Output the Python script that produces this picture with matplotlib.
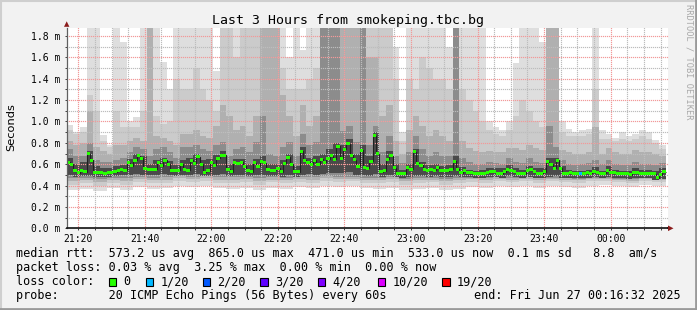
import numpy as np
import matplotlib
matplotlib.use("Agg")
import matplotlib.pyplot as plt
from matplotlib.patches import Rectangle, Polygon
from matplotlib.lines import Line2D

W, H = 697, 310

# ---------------- data (RTT in milliseconds; axis labelled "m" = milli-seconds) ----
# median RTT per 1-minute step, 180 steps starting 21:16:32
median = [
    0.62, 0.60, 0.54, 0.52, 0.54, 0.53, 0.70, 0.635, 0.52, 0.52,
    0.525, 0.515, 0.52, 0.525, 0.53, 0.545, 0.55, 0.545, 0.615, 0.585,
    0.635, 0.68, 0.655, 0.56, 0.555, 0.555, 0.555, 0.615, 0.585, 0.635,
    0.60, 0.545, 0.545, 0.545, 0.60, 0.555, 0.545, 0.635, 0.61, 0.67,
    0.60, 0.525, 0.54, 0.615, 0.59, 0.655, 0.68, 0.685, 0.555, 0.53,
    0.615, 0.61, 0.62, 0.58, 0.545, 0.53, 0.615, 0.58, 0.63, 0.615,
    0.55, 0.54, 0.545, 0.56, 0.53, 0.61, 0.665, 0.60, 0.53, 0.53,
    0.72, 0.635, 0.62, 0.60, 0.635, 0.60, 0.645, 0.62, 0.65, 0.68,
    0.645, 0.77, 0.655, 0.74, 0.79, 0.686, 0.64, 0.58, 0.73, 0.57,
    0.56, 0.63, 0.865, 0.70, 0.53, 0.54, 0.645, 0.68, 0.565, 0.51,
    0.51, 0.51, 0.565, 0.555, 0.715, 0.61, 0.59, 0.555, 0.545, 0.555,
    0.545, 0.57, 0.54, 0.54, 0.54, 0.555, 0.63, 0.555, 0.52, 0.54,
    0.52, 0.52, 0.515, 0.51, 0.515, 0.515, 0.525, 0.53, 0.53, 0.51,
    0.51, 0.53, 0.555, 0.54, 0.53, 0.515, 0.515, 0.51, 0.545, 0.55,
    0.53, 0.515, 0.515, 0.53, 0.625, 0.60, 0.56, 0.635, 0.56, 0.51,
    0.515, 0.52, 0.515, 0.51, 0.51, 0.515, 0.52, 0.515, 0.53, 0.525,
    0.51, 0.515, 0.545, 0.52, 0.52, 0.515, 0.515, 0.51, 0.515, 0.50,
    0.525, 0.525, 0.515, 0.515, 0.515, 0.515, 0.51, 0.475, 0.50, 0.53,
]
# lost pings (out of 20) at given steps; all other steps 0
loss_events = {154: 1}

# smoke layers, upper edges per 2-minute step (90 values)
smoke_hi_a = [
    0.97, 0.90, 0.95, 1.88, 1.88, 0.87, 0.78, 1.88, 1.74, 1.00,
    1.04, 1.88, 1.88, 1.88, 1.56, 1.30, 1.88, 1.88, 1.88, 1.88,
    1.88, 1.88, 1.47, 1.88, 1.88, 1.88, 1.88, 1.88, 1.88, 1.88,
    1.88, 1.88, 1.88, 1.60, 1.88, 1.67, 1.88, 1.88, 1.88, 1.88,
    1.88, 1.88, 1.88, 1.88, 1.88, 1.88, 1.88, 1.88, 1.88, 1.70,
    0.90, 1.88, 1.88, 1.88, 1.88, 1.88, 1.88, 1.70, 1.88, 1.88,
    1.88, 1.88, 1.88, 1.00, 0.95, 0.92, 1.00, 1.55, 1.88, 1.88,
    1.88, 1.74, 1.88, 1.88, 1.00, 0.93, 0.90, 0.92, 0.93, 1.88,
    0.92, 0.88, 0.85, 0.90, 0.86, 0.88, 0.92, 0.90, 0.83, 0.78,
]
smoke_hi_b = [
    0.92, 0.88, 0.90, 1.25, 1.10, 0.82, 0.76, 1.10, 0.95, 0.95,
    0.95, 1.10, 1.88, 1.05, 0.98, 1.00, 1.40, 1.30, 1.30, 1.50,
    1.30, 1.20, 1.10, 1.88, 1.88, 1.60, 1.88, 1.88, 1.88, 1.88,
    1.88, 1.88, 1.50, 1.30, 1.30, 1.30, 1.40, 1.50, 1.88, 1.88,
    1.88, 1.88, 1.88, 1.88, 1.88, 1.88, 1.88, 1.88, 1.88, 1.40,
    0.82, 1.40, 1.30, 1.60, 1.50, 1.40, 1.40, 1.30, 1.88, 1.30,
    1.20, 1.10, 1.00, 0.92, 0.88, 0.86, 0.92, 1.05, 1.20, 1.10,
    1.00, 0.95, 1.88, 1.88, 0.90, 0.86, 0.86, 0.86, 0.88, 1.30,
    0.84, 0.84, 0.82, 0.84, 0.82, 0.84, 0.86, 0.84, 0.80, 0.74,
]
smoke_hi_c = [
    0.82, 0.78, 0.80, 1.10, 0.76, 0.72, 0.70, 0.78, 0.78, 0.82,
    0.85, 0.82, 1.88, 0.86, 0.85, 0.82, 0.78, 0.88, 0.88, 0.92,
    0.86, 0.85, 0.96, 1.15, 1.05, 0.92, 0.96, 0.86, 1.05, 1.88,
    1.88, 1.88, 1.25, 1.05, 0.86, 1.15, 0.96, 1.05, 1.88, 1.88,
    1.88, 1.88, 1.88, 1.88, 1.88, 1.60, 1.60, 1.05, 1.15, 0.82,
    0.70, 0.92, 1.05, 0.96, 0.86, 0.92, 0.86, 0.82, 1.88, 0.82,
    0.75, 0.72, 0.71, 0.72, 0.71, 0.71, 0.75, 0.75, 0.73, 0.78,
    0.75, 0.73, 1.88, 1.88, 0.73, 0.71, 0.70, 0.70, 0.71, 0.95,
    0.70, 0.75, 0.71, 0.70, 0.70, 0.73, 0.71, 0.71, 0.70, 0.68,
]
smoke_hi_d = [
    0.74, 0.68, 0.68, 0.80, 0.64, 0.62, 0.62, 0.64, 0.66, 0.71,
    0.76, 0.74, 0.68, 0.74, 0.76, 0.71, 0.66, 0.76, 0.76, 0.78,
    0.74, 0.72, 0.78, 0.81, 0.68, 0.74, 0.76, 0.71, 0.81, 1.05,
    0.70, 0.68, 0.76, 0.81, 0.68, 0.88, 0.78, 0.81, 1.88, 1.88,
    1.88, 0.91, 0.96, 0.81, 1.88, 0.78, 0.96, 0.71, 0.86, 0.68,
    0.61, 0.71, 0.86, 0.74, 0.68, 0.71, 0.68, 0.68, 1.88, 0.66,
    0.62, 0.60, 0.60, 0.62, 0.61, 0.60, 0.66, 0.62, 0.61, 0.66,
    0.62, 0.61, 0.96, 0.76, 0.64, 0.60, 0.59, 0.60, 0.61, 0.64,
    0.60, 0.64, 0.60, 0.59, 0.59, 0.62, 0.60, 0.60, 0.59, 0.61,
]
smoke_hi_e = [
    0.66, 0.60, 0.62, 0.72, 0.58, 0.56, 0.56, 0.58, 0.59, 0.65,
    0.70, 0.68, 0.60, 0.64, 0.66, 0.63, 0.59, 0.64, 0.66, 0.70,
    0.64, 0.65, 0.69, 0.72, 0.60, 0.65, 0.65, 0.60, 0.65, 0.68,
    0.60, 0.60, 0.64, 0.70, 0.58, 0.76, 0.66, 0.68, 0.70, 0.74,
    0.80, 0.78, 0.84, 0.70, 0.78, 0.68, 0.90, 0.60, 0.72, 0.60,
    0.55, 0.60, 0.74, 0.62, 0.59, 0.60, 0.58, 0.59, 0.68, 0.57,
    0.55, 0.54, 0.55, 0.56, 0.56, 0.56, 0.59, 0.56, 0.55, 0.58,
    0.56, 0.56, 0.66, 0.66, 0.58, 0.55, 0.54, 0.54, 0.55, 0.57,
    0.54, 0.58, 0.55, 0.54, 0.54, 0.56, 0.55, 0.55, 0.54, 0.56,
]
smoke_lo_e = [
    0.50, 0.48, 0.49, 0.49, 0.48, 0.48, 0.48, 0.49, 0.50, 0.50,
    0.51, 0.50, 0.50, 0.50, 0.51, 0.50, 0.49, 0.50, 0.50, 0.51,
    0.49, 0.49, 0.50, 0.51, 0.49, 0.50, 0.50, 0.49, 0.50, 0.50,
    0.49, 0.49, 0.48, 0.50, 0.48, 0.50, 0.51, 0.50, 0.51, 0.52,
    0.52, 0.52, 0.53, 0.50, 0.50, 0.49, 0.51, 0.48, 0.50, 0.48,
    0.47, 0.48, 0.49, 0.49, 0.48, 0.49, 0.48, 0.48, 0.49, 0.48,
    0.48, 0.47, 0.47, 0.48, 0.48, 0.47, 0.49, 0.48, 0.47, 0.48,
    0.47, 0.47, 0.48, 0.49, 0.47, 0.47, 0.47, 0.47, 0.47, 0.48,
    0.47, 0.48, 0.47, 0.47, 0.46, 0.47, 0.47, 0.47, 0.45, 0.46,
]
# smoke layers, lower edges per 4-minute step (45 values)
smoke_lo_a = [
    0.36, 0.37, 0.35, 0.38, 0.36, 0.39, 0.37, 0.38, 0.40, 0.39,
    0.40, 0.38, 0.37, 0.38, 0.36, 0.38, 0.37, 0.39, 0.38, 0.40,
    0.39, 0.40, 0.38, 0.37, 0.38, 0.36, 0.37, 0.38, 0.36, 0.37,
    0.39, 0.38, 0.40, 0.39, 0.40, 0.38, 0.40, 0.39, 0.38, 0.40,
    0.41, 0.40, 0.39, 0.41, 0.40,
]
smoke_lo_b = [
    0.41, 0.42, 0.40, 0.42, 0.41, 0.43, 0.42, 0.42, 0.44, 0.43,
    0.44, 0.42, 0.42, 0.43, 0.41, 0.43, 0.42, 0.43, 0.42, 0.44,
    0.43, 0.44, 0.42, 0.42, 0.43, 0.41, 0.42, 0.43, 0.41, 0.42,
    0.43, 0.42, 0.44, 0.43, 0.44, 0.42, 0.44, 0.43, 0.42, 0.44,
    0.44, 0.43, 0.42, 0.44, 0.43,
]
smoke_lo_c = [
    0.44, 0.45, 0.43, 0.45, 0.44, 0.46, 0.45, 0.45, 0.47, 0.46,
    0.47, 0.45, 0.45, 0.46, 0.44, 0.45, 0.45, 0.46, 0.45, 0.47,
    0.46, 0.46, 0.45, 0.45, 0.46, 0.44, 0.45, 0.45, 0.44, 0.45,
    0.46, 0.45, 0.46, 0.45, 0.46, 0.45, 0.46, 0.45, 0.45, 0.46,
    0.46, 0.45, 0.44, 0.46, 0.45,
]
smoke_lo_d = [
    0.47, 0.47, 0.46, 0.47, 0.47, 0.48, 0.47, 0.48, 0.49, 0.48,
    0.49, 0.48, 0.48, 0.48, 0.47, 0.48, 0.47, 0.48, 0.48, 0.49,
    0.48, 0.48, 0.47, 0.47, 0.48, 0.46, 0.47, 0.47, 0.46, 0.47,
    0.47, 0.47, 0.48, 0.47, 0.48, 0.47, 0.47, 0.47, 0.46, 0.47,
    0.47, 0.46, 0.46, 0.47, 0.46,
]

x_tick_labels = ["21:20", "21:40", "22:00", "22:20", "22:40",
                 "23:00", "23:20", "23:40", "00:00"]
y_ticks = [0.0, 0.2, 0.4, 0.6, 0.8, 1.0, 1.2, 1.4, 1.6, 1.8]

loss_labels = ["0", "1/20", "2/20", "3/20", "4/20", "10/20", "19/20"]
loss_colors = ["#26ff00", "#00b8ff", "#0059ff", "#5e00ff", "#7e00ff", "#dd00ff", "#ff0000"]

title = "Last 3 Hours from smokeping.tbc.bg"
legend_rtt = "median rtt:  573.2 us avg  865.0 us max  471.0 us min  533.0 us now  0.1 ms sd   8.8  am/s"
legend_loss = "packet loss: 0.03 % avg  3.25 % max  0.00 % min  0.00 % now"
legend_probe = "probe:       20 ICMP Echo Pings (56 Bytes) every 60s"
legend_end = "end: Fri Jun 27 00:16:32 2025"
start_hms = (21, 16, 32)

# ---------------- figure ----------------
BG = "#f2f2f2"
MONO = "DejaVu Sans Mono"
fig = plt.figure(figsize=(W / 100, H / 100), dpi=100, facecolor=BG)

def fx(x):
    return x / W

def fy(y):
    return 1 - y / H

PL, PR, PT, PB = 66.7, 668.3, 27.7, 228.3
ax = fig.add_axes([fx(PL), fy(PB), fx(PR) - fx(PL), fy(PT) - fy(PB)])
ax.set_facecolor("white")

n = len(median)
XMAX = 180.8
ax.set_xlim(0, XMAX)
ax.set_ylim(0, 1.878)

def draw_layer(hi, lo, color):
    hi = np.asarray(hi)
    lo = np.asarray(lo)
    if len(lo) != len(hi):
        lo = np.repeat(lo, len(hi) // len(lo))
    edges = np.linspace(0, n, len(hi) + 1)
    ax.stairs(hi, edges, baseline=lo, fill=True, color=color,
              linewidth=0, antialiased=False, zorder=1)

draw_layer(smoke_hi_a, smoke_lo_a, "#dedede")
draw_layer(smoke_hi_b, smoke_lo_b, "#cbcbcb")
draw_layer(smoke_hi_c, smoke_lo_c, "#b0b0b0")
draw_layer(smoke_hi_d, smoke_lo_d, "#8c8c8c")
draw_layer(smoke_hi_e, smoke_lo_e, "#4a4a4a")

# median: dark thin step line, then coloured bars
med = np.asarray(median)
edges = np.arange(n + 1)
ax.stairs(med, edges, color="#202020", linewidth=0.8, zorder=4, baseline=None)
half = 1.5 / 106.8
level_idx = {0: 0, 1: 1, 2: 2, 3: 3, 4: 4, 10: 5, 19: 6}
for i, v in enumerate(med):
    li = level_idx.get(loss_events.get(i, 0), 0)
    ax.add_patch(Rectangle((i, v - half), 1, 2 * half, facecolor=loss_colors[li],
                           edgecolor="none", zorder=5, antialiased=False))

# time ticks
start_min = start_hms[0] * 60 + start_hms[1] + start_hms[2] / 60.0
def tpos(lbl):
    h, m = map(int, lbl.split(":"))
    t = h * 60 + m
    if t < start_min:
        t += 24 * 60
    return t - start_min

major_x = [tpos(l) for l in x_tick_labels]
minor_x = np.arange(major_x[0] - 5, XMAX, 5)
minor_x = [m for m in minor_x if m > 0 and all(abs(m - M) > 0.01 for M in major_x)]
minor_y = [v for v in np.arange(0.1, 1.88, 0.1) if abs(round(v / 0.2) * 0.2 - v) > 0.01]

ax.set_xticks(major_x)
ax.set_xticklabels(x_tick_labels)
ax.set_xticks(minor_x, minor=True)
ax.set_yticks(y_ticks)
ax.set_yticklabels(["%.1f m" % v for v in y_ticks])
ax.set_yticks(minor_y, minor=True)

# dotted grid drawn as crisp single-pixel dots every 2 px
pw = PR - PL
ph = PB - PT
vfr = np.arange(0, 1, 2.0 / ph)
hfr = np.arange(0, 1, 2.0 / pw)
vt = ax.get_xaxis_transform()
ht = ax.get_yaxis_transform()
DOT = 0.85
def vgrid(x, col):
    ax.plot(np.full_like(vfr, x), vfr, ls="none", marker="s", markersize=DOT,
            markeredgewidth=0, color=col, transform=vt, zorder=3, clip_on=True,
            antialiased=False)
def hgrid(y, col):
    ax.plot(hfr, np.full_like(hfr, y), ls="none", marker="s", markersize=DOT,
            markeredgewidth=0, color=col, transform=ht, zorder=3, clip_on=True,
            antialiased=False)

GRIDC = "#bdbdbd"
MGRIDC = "#f29a9a"
for x in minor_x:
    vgrid(x, GRIDC)
for y in minor_y:
    hgrid(y, GRIDC)
for x in major_x:
    vgrid(x, MGRIDC)
for y in y_ticks[1:]:
    hgrid(y, MGRIDC)

for s in ["top", "right"]:
    ax.spines[s].set_visible(False)
ax.spines["left"].set_color("#606060")
ax.spines["left"].set_linewidth(0.9)
ax.spines["bottom"].set_color("#101010")
ax.spines["bottom"].set_linewidth(1.2)
ax.spines["left"].set_zorder(6)
ax.spines["bottom"].set_zorder(6)

ax.tick_params(axis="both", which="both", direction="out", length=1.5,
               width=0.7, color="#404040")
ax.tick_params(axis="y", which="major", labelsize=7, pad=3.2)
ax.tick_params(axis="x", which="major", labelsize=7, pad=2.5)
for lbl in ax.get_xticklabels() + ax.get_yticklabels():
    lbl.set_fontfamily(MONO)
    lbl.set_color("#000000")

# arrows
fig.patches.append(Polygon([(fx(66.7), fy(21.3)), (fx(64.0), fy(26.8)), (fx(69.4), fy(26.8))],
                           closed=True, transform=fig.transFigure, facecolor="#8b1c1c",
                           edgecolor="none", zorder=10))
fig.patches.append(Polygon([(fx(673.5), fy(228.3)), (fx(668.0), fy(225.5)), (fx(668.0), fy(231.1))],
                           closed=True, transform=fig.transFigure, facecolor="#8b1c1c",
                           edgecolor="none", zorder=10))
fig.lines.append(Line2D([fx(PR), fx(668.5)], [fy(PB), fy(PB)], transform=fig.transFigure,
                        color="#101010", lw=1.2))

# texts
fig.text(fx(347.5), fy(24), title, ha="center", va="baseline", fontsize=9.5,
         family=MONO, color="#000000")
fig.text(fx(11), fy(127), "Seconds", rotation=90, ha="center", va="center",
         fontsize=8.2, family="DejaVu Sans", color="#000000")
fig.text(fx(688.5), fy(4), "RRDTOOL / TOBI OETIKER", rotation=-90, ha="center", va="top",
         fontsize=6.2, family=MONO, color="#a8a8a8")

LX = 16
fs = 8.5
fig.text(fx(LX), fy(257.3), legend_rtt, ha="left", va="baseline", fontsize=fs, family=MONO)
fig.text(fx(LX), fy(271.3), legend_loss, ha="left", va="baseline", fontsize=fs, family=MONO)
fig.text(fx(LX), fy(285.3), "loss color:", ha="left", va="baseline", fontsize=fs, family=MONO)
sq_x = [108.7, 145.7, 203.0, 260.3, 317.7, 377.7, 442.3]
for sx, lbl, col in zip(sq_x, loss_labels, loss_colors):
    fig.patches.append(Rectangle((fx(sx), fy(285.8)), 7.4 / W, 7.4 / H,
                                 transform=fig.transFigure, facecolor=col,
                                 edgecolor="black", linewidth=0.8, zorder=10))
    fig.text(fx(sx + 14.5), fy(285.3), lbl, ha="left", va="baseline", fontsize=fs, family=MONO)
fig.text(fx(LX), fy(299.3), legend_probe, ha="left", va="baseline", fontsize=fs, family=MONO)
fig.text(fx(680.5), fy(299.3), legend_end, ha="right", va="baseline", fontsize=fs, family=MONO)

# 3D frame
fig.lines.append(Line2D([0, 1], [fy(0.8), fy(0.8)], transform=fig.transFigure, color="#cfcfcf", lw=1.5))
fig.lines.append(Line2D([fx(0.8), fx(0.8)], [0, 1], transform=fig.transFigure, color="#cfcfcf", lw=1.5))
fig.lines.append(Line2D([0, 1], [fy(H - 1.2), fy(H - 1.2)], transform=fig.transFigure, color="#9a9a9a", lw=2.0))
fig.lines.append(Line2D([fx(W - 1.2), fx(W - 1.2)], [0, 1], transform=fig.transFigure, color="#9a9a9a", lw=2.0))

fig.savefig("out.png", dpi=100, facecolor=BG)
